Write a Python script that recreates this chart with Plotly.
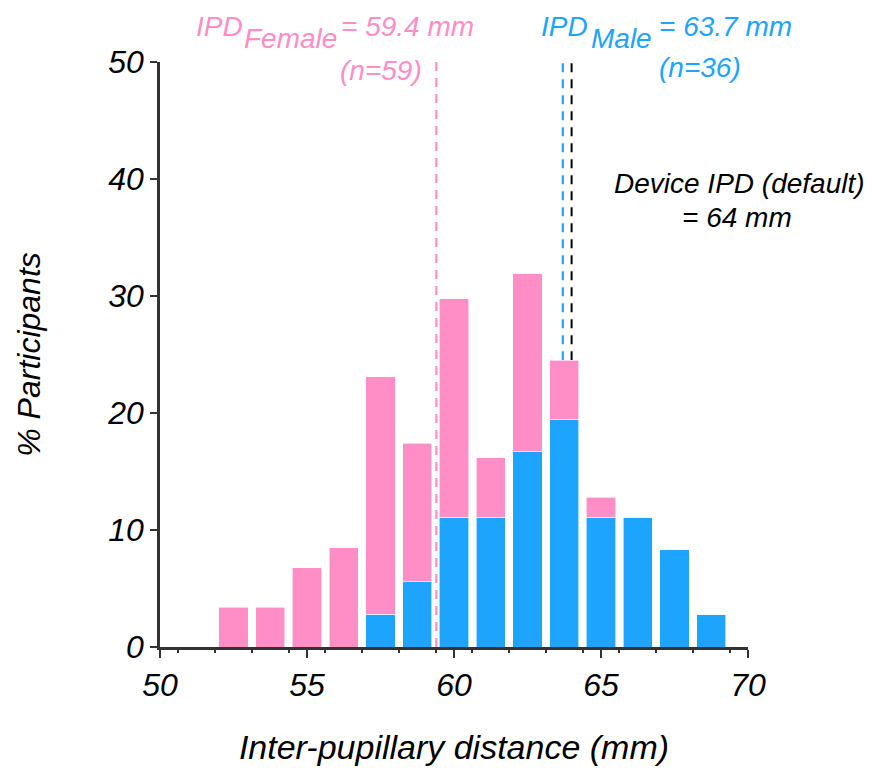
import plotly.graph_objects as go

# Bin centres (mm) and % of participants per sex
bin_centers = [52.5, 53.75, 55, 56.25, 57.5, 58.75, 60, 61.25, 62.5, 63.75, 65, 66.25, 67.5, 68.75]
male_pct = [0, 0, 0, 0, 2.78, 5.56, 11.11, 11.11, 16.67, 19.44, 11.11, 11.11, 8.33, 2.78]
female_pct = [3.39, 3.39, 6.78, 8.47, 20.34, 11.86, 18.64, 5.08, 15.25, 5.08, 1.69, 0, 0, 0]

female_mean = 59.4
male_mean = 63.7
device_ipd = 64
male_line_top = 24.5
x_ticks = [50, 55, 60, 65, 70]
y_ticks = [0, 10, 20, 30, 40, 50]

PINK = "#FF8DC6"
BLUE = "#1DA4FC"
FONT = "Liberation Sans, Arial, sans-serif"

fig = go.Figure()
fig.add_trace(go.Bar(x=bin_centers, y=male_pct, width=1.0, marker=dict(color=BLUE, line=dict(color="white", width=0.6)),
                     name="Male", hoverinfo="x+y"))
fig.add_trace(go.Bar(x=bin_centers, y=female_pct, width=1.0, marker=dict(color=PINK, line=dict(color="white", width=0.6)),
                     name="Female", hoverinfo="x+y"))

# dashed reference lines (behind bars)
fig.add_shape(type="line", x0=female_mean, x1=female_mean, y0=0, y1=50.2, xref="x", yref="y",
              line=dict(color=PINK, width=2.2, dash="9px,7px"), layer="below")
fig.add_shape(type="line", x0=male_mean, x1=male_mean, y0=male_line_top, y1=50.2, xref="x", yref="y",
              line=dict(color=BLUE, width=2.2, dash="9px,7px"), layer="below")
fig.add_shape(type="line", x0=device_ipd, x1=device_ipd, y0=male_line_top, y1=50.2, xref="x", yref="y",
              line=dict(color="black", width=2, dash="9px,7px"), layer="below")

def ann(text, x, y, color, xanchor="center", size=27):
    fig.add_annotation(text=text, x=x, y=y, xref="paper", yref="paper", showarrow=False, xanchor=xanchor,
                       yanchor="middle", borderpad=0, font=dict(family=FONT, size=size, color=color, style="italic"))

# IPD_Female = 59.4 mm (subscript drawn as a lowered word)
ann("IPD", 0.0595, 1.060, PINK, xanchor="left", size=28)
ann("Female", 0.141, 1.041, PINK, xanchor="left", size=28)
ann("= 59.4 mm", 0.306, 1.060, PINK, xanchor="left", size=28)
ann("(n=59)", 0.447, 0.986, PINK, xanchor="right", size=28)
# IPD_Male = 63.7 mm
ann("IPD", 0.646, 1.060, BLUE, xanchor="left", size=28)
ann("Male", 0.731, 1.041, BLUE, xanchor="left", size=28)
ann("= 63.7 mm", 0.847, 1.060, BLUE, xanchor="left", size=28)
ann("(n=36)", 0.918, 0.990, BLUE, size=28)
# device default
ann("Device IPD (default)", 0.986, 0.793, "black", size=28)
ann("= 64 mm", 0.981, 0.735, "black", size=28)

fig.update_layout(
    width=865, height=761,
    margin=dict(l=152, r=125, t=54, b=122),
    plot_bgcolor="white", paper_bgcolor="white",
    barmode="stack", showlegend=False,
    font=dict(family=FONT, color="black"),
)
fig.update_xaxes(range=[50, 70], tickvals=x_ticks, ticktext=[str(v) for v in x_ticks], automargin=False,
                 showline=True, linecolor="#333", linewidth=2.5, ticks="outside", ticklen=8, tickwidth=2,
                 tickcolor="#333", showgrid=False, zeroline=False,
                 tickfont=dict(size=32, style="italic", color="black"),
                 minor=dict(ticks="outside", ticklen=3, tickwidth=2, tickcolor="#333", tick0=50.625, dtick=1.25),
                 title=dict(text="Inter-pupillary distance (mm)", font=dict(size=34, style="italic"), standoff=34))
fig.update_yaxes(range=[0, 50], tickvals=y_ticks, showline=True, linecolor="#333", linewidth=2.5, automargin=False,
                 ticks="outside", ticklen=7, tickwidth=2, tickcolor="#333", showgrid=False, zeroline=False,
                 tickfont=dict(size=32, style="italic", color="black"),
                 title=dict(text="% Participants", font=dict(size=32, style="italic"), standoff=58))

fig.write_html("out.html")
